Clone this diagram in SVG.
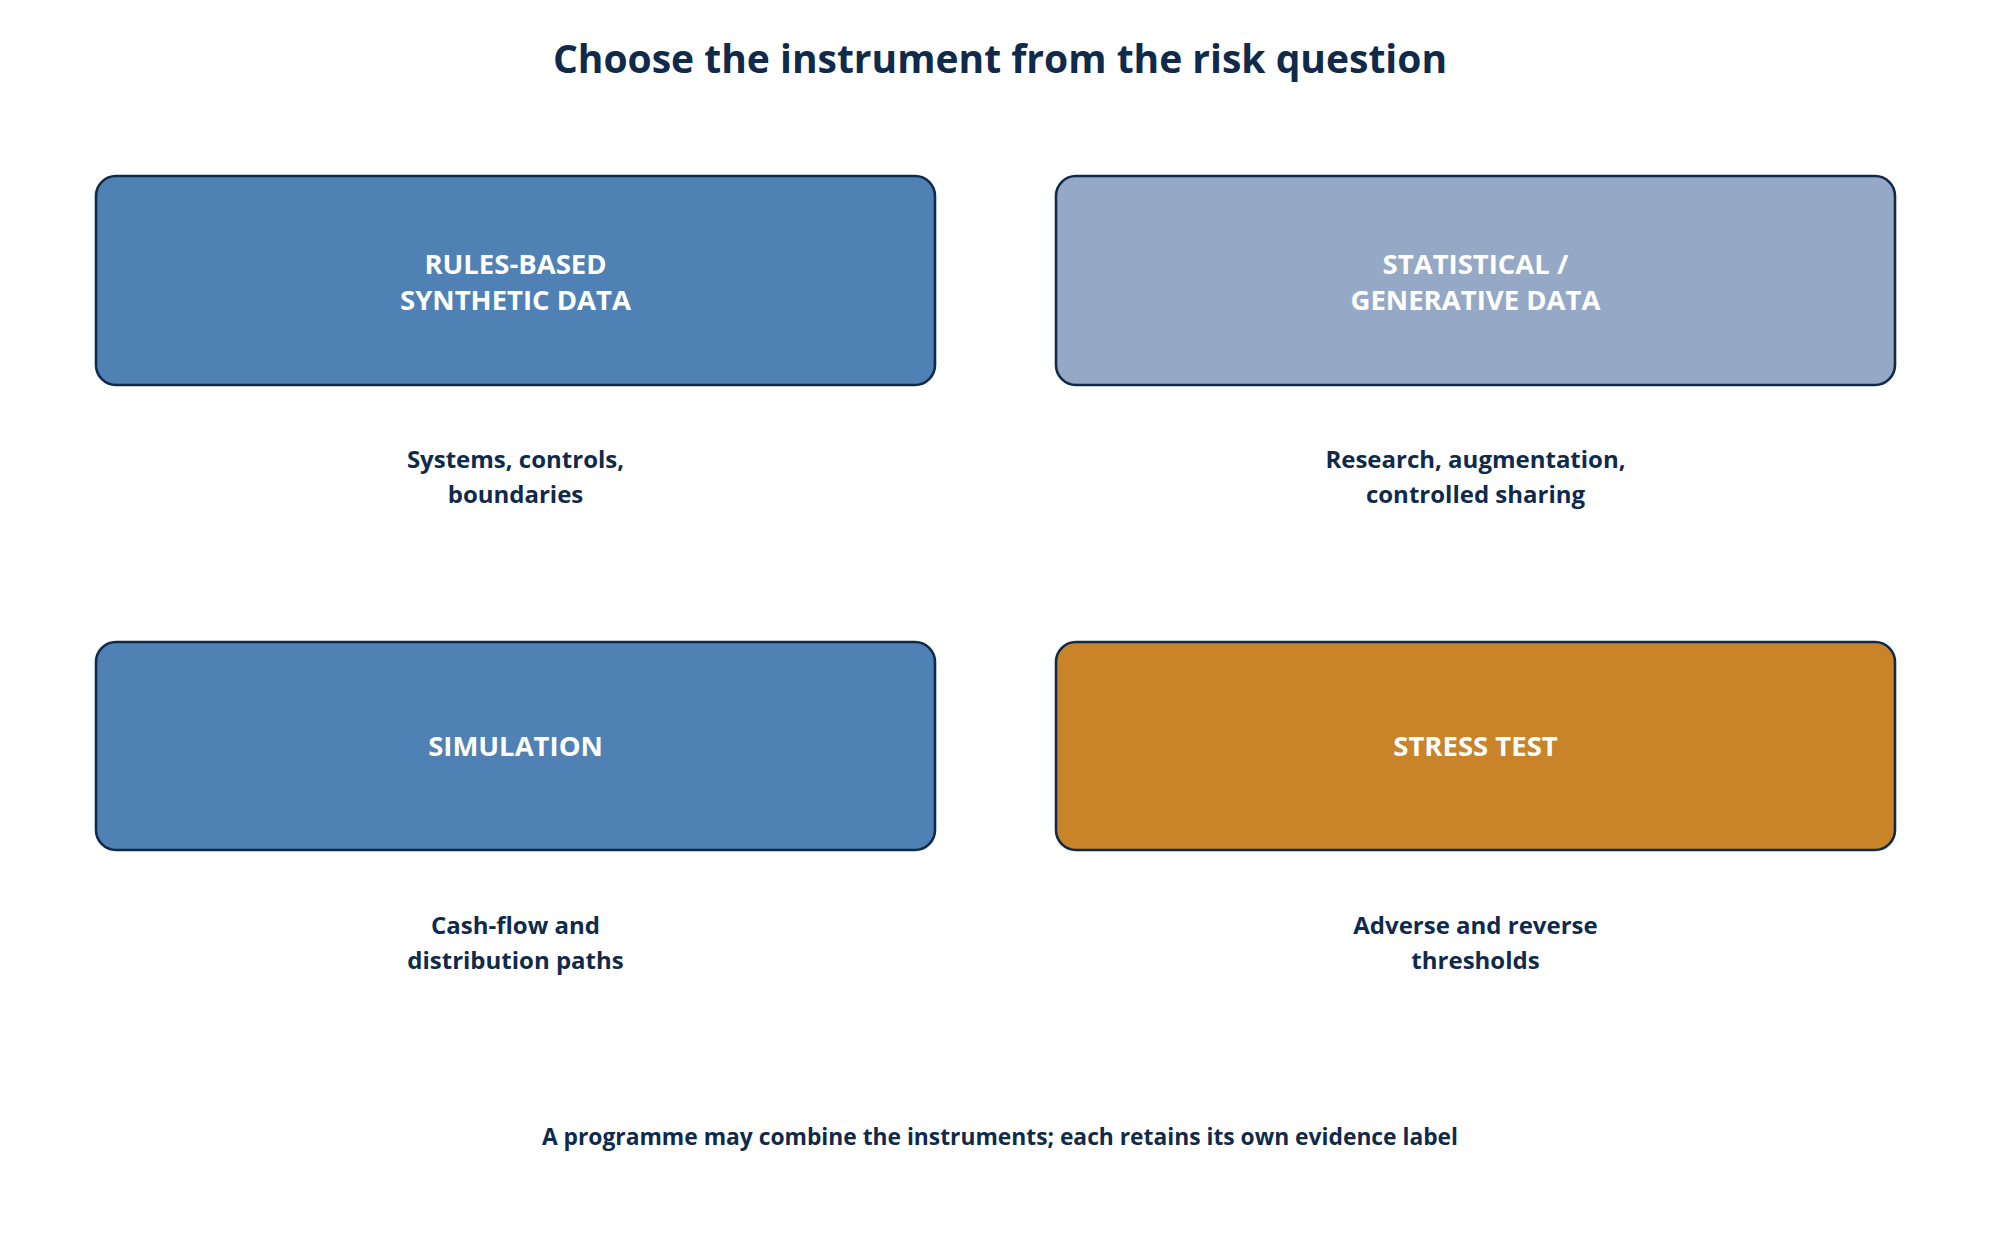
<svg xmlns="http://www.w3.org/2000/svg" width="2000" height="1240" viewBox="0 0 2000 1240">
<style>
  text { font-family: "Open Sans", "Noto Sans", "Liberation Sans", sans-serif; font-weight: 700; text-anchor: middle; }
  .title { font-size: 39px; fill: #0F2A4A; }
  .node { stroke: #0F2A4A; stroke-width: 2.6; }
  .lbl { font-size: 27.5px; fill: #FFFFFF; }
  .cap { font-size: 24px; fill: #0F2A4A; }
  .foot { font-size: 22.8px; fill: #0F2A4A; }
</style>
<rect width="2000" height="1240" fill="#FFFFFF"/>
<text class="title" x="1000" y="73">Choose the instrument from the risk question</text>
<g id="connectors"></g>
<g id="rules-based">
  <rect class="node" x="96" y="176" width="839" height="209" rx="20" fill="#4F81B4"/>
  <text class="lbl" x="515.5" y="274">RULES-BASED</text>
  <text class="lbl" x="515.5" y="310">SYNTHETIC DATA</text>
  <text class="cap" x="515.5" y="468">Systems, controls,</text>
  <text class="cap" x="515.5" y="503">boundaries</text>
</g>
<g id="statistical">
  <rect class="node" x="1056" y="176" width="839" height="209" rx="20" fill="#95A9C6"/>
  <text class="lbl" x="1475.5" y="274">STATISTICAL /</text>
  <text class="lbl" x="1475.5" y="310">GENERATIVE DATA</text>
  <text class="cap" x="1475.5" y="468">Research, augmentation,</text>
  <text class="cap" x="1475.5" y="503">controlled sharing</text>
</g>
<g id="simulation">
  <rect class="node" x="96" y="642" width="839" height="208" rx="20" fill="#4F81B4"/>
  <text class="lbl" x="515.5" y="756">SIMULATION</text>
  <text class="cap" x="515.5" y="934">Cash-flow and</text>
  <text class="cap" x="515.5" y="969">distribution paths</text>
</g>
<g id="stress-test">
  <rect class="node" x="1056" y="642" width="839" height="208" rx="20" fill="#C98429"/>
  <text class="lbl" x="1475.5" y="756">STRESS TEST</text>
  <text class="cap" x="1475.5" y="934">Adverse and reverse</text>
  <text class="cap" x="1475.5" y="969">thresholds</text>
</g>
<text class="foot" x="1000" y="1145">A programme may combine the instruments; each retains its own evidence label</text>
</svg>
